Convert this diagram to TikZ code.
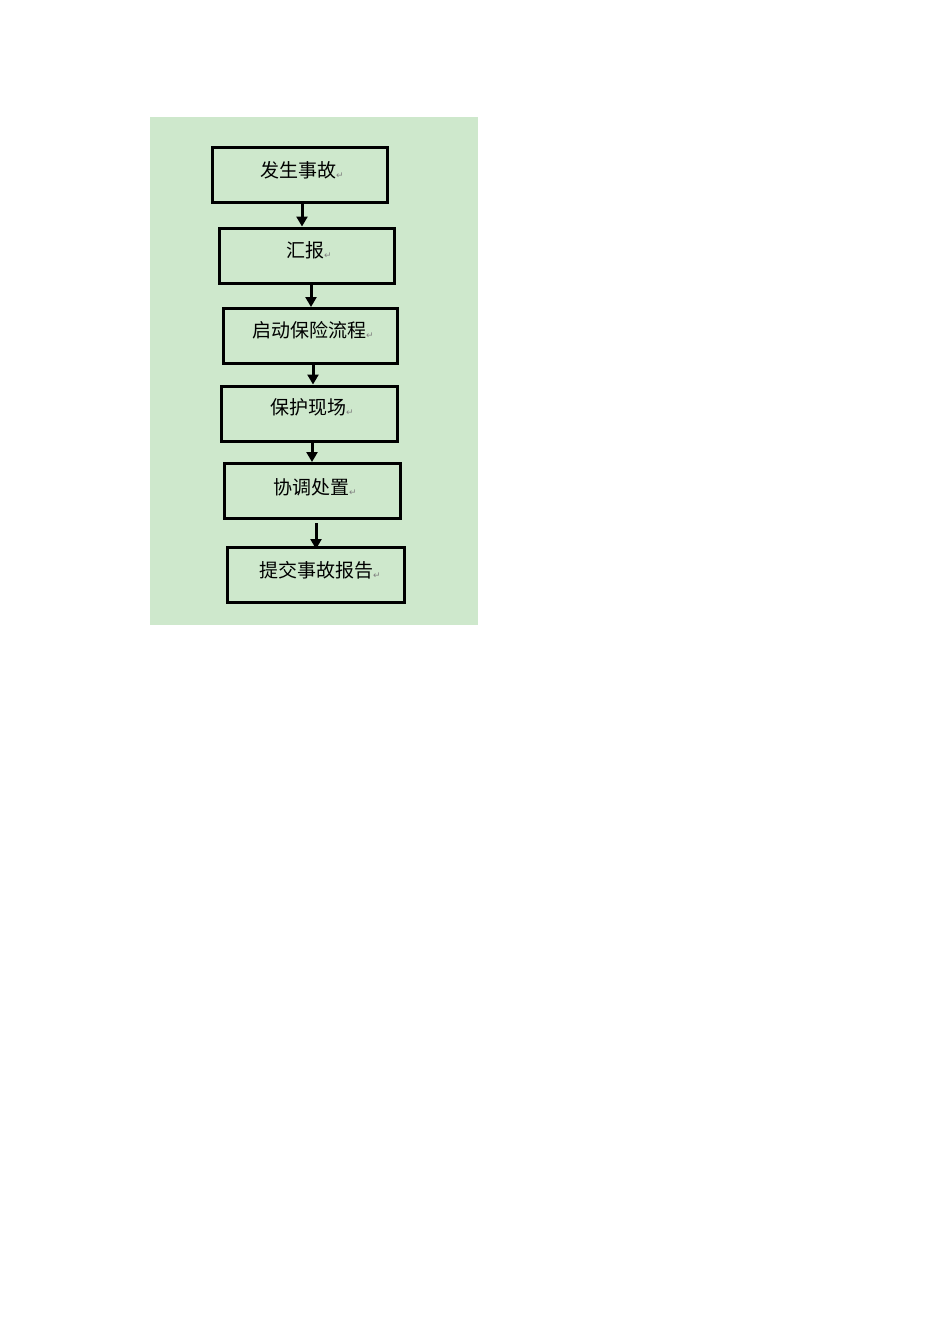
\documentclass[tikz,border=0pt]{standalone}
\usepackage{fontspec}
\newfontfamily\cjk{Noto Sans CJK SC}
\newfontfamily\dv{DejaVu Sans}
\usetikzlibrary{arrows.meta}
\definecolor{bg}{RGB}{206,232,204}
\newcommand{\rmark}{{\dv\fontsize{9}{9}\selectfont\color{gray}\raisebox{-1pt}{↵}}}
\tikzset{
  flowbox/.style={draw=black, line width=3pt, fill=bg, inner sep=0pt},
  flowtext/.style={inner sep=0pt, font=\cjk\fontsize{19}{19}\selectfont, anchor=west},
  flowarrow/.style={draw=black, line width=3pt, -{Triangle[width=11pt,length=10pt]}}
}
\begin{document}
\begin{tikzpicture}[x=1pt,y=-1pt]
\useasboundingbox (0,0) rectangle (950,1318);
\fill[white] (0,0) rectangle (950,1318);
\node[fill=bg, inner sep=0pt, minimum width=328pt, minimum height=508pt] (bgr) at (314,371) {};
\node[flowbox, minimum width=175pt, minimum height=55pt] (b1) at (300,175) {};
\node[flowbox, minimum width=175pt, minimum height=55pt] (b2) at (306.5,255.5) {};
\node[flowbox, minimum width=174pt, minimum height=55pt] (b3) at (310,336) {};
\node[flowbox, minimum width=176pt, minimum height=55pt] (b4) at (309.5,413.5) {};
\node[flowbox, minimum width=176pt, minimum height=55pt] (b5) at (312,491) {};
\node[flowbox, minimum width=177pt, minimum height=55pt] (b6) at (316,575) {};
\node[flowtext] (t1) at (260,170) {发生事故\rmark};
\node[flowtext] (t2) at (286,250) {汇报\rmark};
\node[flowtext] (t3) at (252,330) {启动保险流程\rmark};
\node[flowtext] (t4) at (270,407) {保护现场\rmark};
\node[flowtext] (t5) at (273,487) {协调处置\rmark};
\node[flowtext] (t6) at (259,570) {提交事故报告\rmark};
\draw[flowarrow] (b1.south -| 302,0) -- (b2.north -| 302,0);
\draw[flowarrow] (b2.south -| 311,0) -- (b3.north -| 311,0);
\draw[flowarrow] (b3.south -| 313,0) -- (b4.north -| 313,0);
\draw[flowarrow] (b4.south -| 312,0) -- (b5.north -| 312,0);
\draw[flowarrow] (b5.south -| 316,0) ++(0,3) -- ([yshift=-3pt]b6.north -| 316,0);
\end{tikzpicture}
\end{document}
